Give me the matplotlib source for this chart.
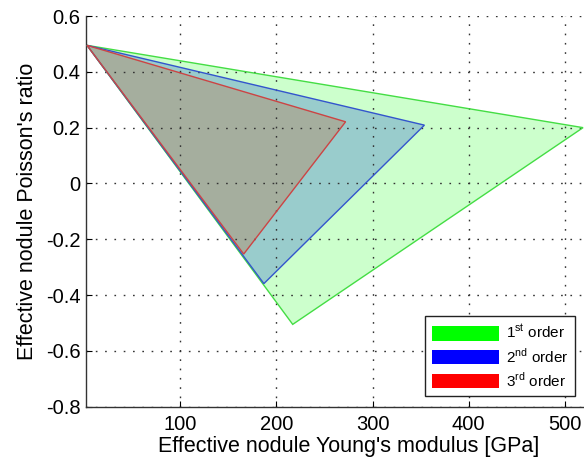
import numpy as np
import matplotlib.pyplot as plt
from matplotlib.patches import Patch

plt.rcParams['font.family'] = ['Liberation Sans', 'DejaVu Sans']
plt.rcParams['mathtext.fontset'] = 'custom'
plt.rcParams['mathtext.rm'] = 'Liberation Sans'

# triangle vertices (Young's modulus [GPa], Poisson's ratio)
order_names = [r'1$^{\mathrm{st}}$ order', r'2$^{\mathrm{nd}}$ order', r'3$^{\mathrm{rd}}$ order']
young_1st = [3, 519, 217]
poisson_1st = [0.495, 0.200, -0.505]
young_2nd = [3, 354, 187]
poisson_2nd = [0.495, 0.209, -0.359]
young_3rd = [3, 272, 166]
poisson_3rd = [0.495, 0.221, -0.253]

x_ticks = [100, 200, 300, 400, 500]
y_ticks = [0.6, 0.4, 0.2, 0, -0.2, -0.4, -0.6, -0.8]
y_tick_labels = ['0.6', '0.4', '0.2', '0', '-0.2', '-0.4', '-0.6', '-0.8']

fig = plt.figure(figsize=(5.84, 4.63), dpi=100)
ax = fig.add_axes([0.1473, 0.1216, 0.8527, 0.8438])

# (x, y, fill as it appears on screen, edge colour)
series = [
    (young_1st, poisson_1st, '#ccffcc', '#44dd44'),
    (young_2nd, poisson_2nd, '#99cccc', '#3355cc'),
    (young_3rd, poisson_3rd, '#a5ae9e', '#cc4444'),
]
for xs, ys, face, edge in series:
    ax.fill(xs, ys, facecolor=face, edgecolor='none', zorder=1)
for xs, ys, face, edge in series:
    ax.fill(xs, ys, facecolor='none', edgecolor=edge, linewidth=1.0, zorder=3)

ax.set_xlim(2, 520)
ax.set_ylim(-0.8, 0.6)
ax.set_xticks(x_ticks)
ax.set_yticks(y_ticks)
ax.set_yticklabels(y_tick_labels)
ax.tick_params(direction='in', length=4, width=0.8, labelsize=14.5)
ax.tick_params(axis='y', pad=4)
ax.tick_params(axis='x', pad=6)

ax.grid(True, color='#333333', linestyle=(0, (1.2, 5.5)), linewidth=1.0, zorder=2)
for side in ['top', 'right']:
    ax.spines[side].set_visible(False)
for side in ['left', 'bottom']:
    ax.spines[side].set_color('#333333')
    ax.spines[side].set_linewidth(1.0)

ax.set_xlabel("Effective nodule Young's modulus [GPa]", fontsize=15.5)
ax.xaxis.set_label_coords(0.527, -0.074, transform=ax.transAxes)
ax.xaxis.label.set_va('top')
ax.set_ylabel("Effective nodule Poisson's ratio", fontsize=15.5, labelpad=6)

handles = [Patch(facecolor=c, edgecolor='none') for c in ['#00ff00', '#0000ff', '#ff0000']]
leg = ax.legend(handles, order_names, loc='lower right', bbox_to_anchor=(0.982, 0.027),
                borderaxespad=0, fontsize=11, handlelength=4.4, handleheight=1.1,
                handletextpad=0.4, labelspacing=0.35, borderpad=0.45,
                fancybox=False, framealpha=1)
leg.get_frame().set_edgecolor('#222222')
leg.get_frame().set_linewidth(1.0)

fig.savefig('out.png', dpi=100)
